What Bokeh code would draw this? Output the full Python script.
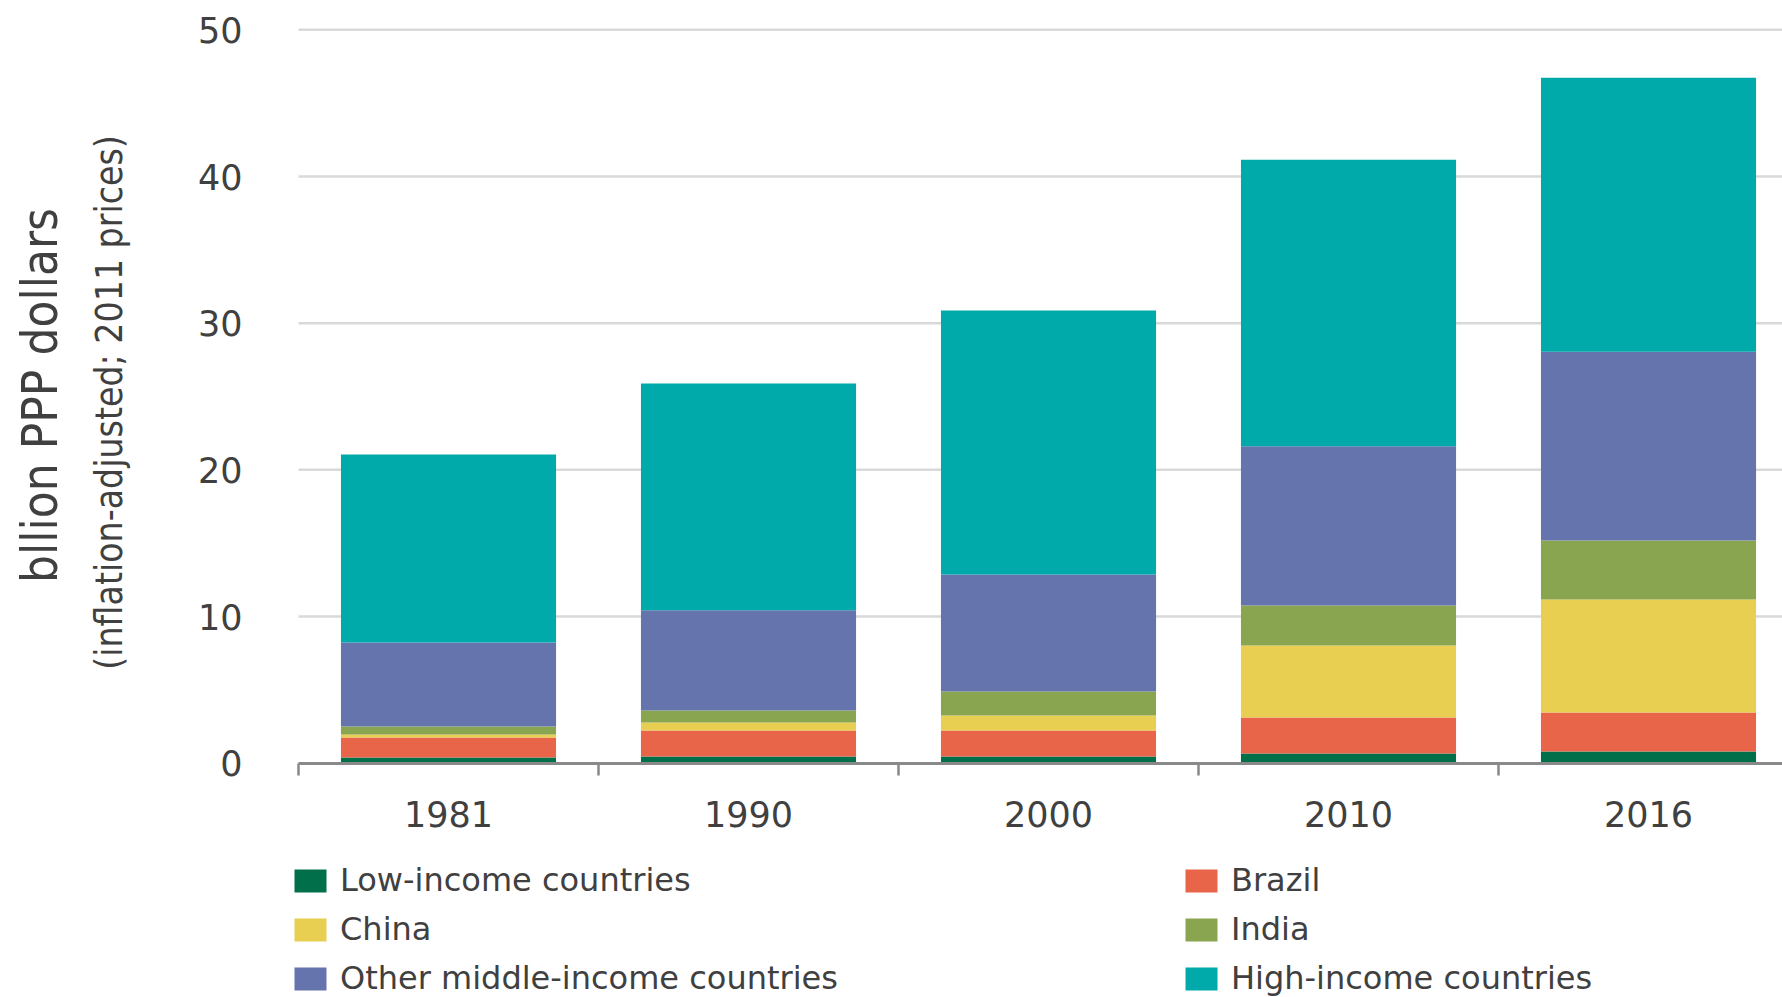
from bokeh.plotting import figure
from bokeh.models import (ColumnDataSource, Range1d, FixedTicker, Legend, LegendItem,
                          Label, LinearAxis)
from bokeh.embed import file_html
from bokeh.resources import INLINE
import math

# ---- data (billion PPP dollars, 2011 prices) ----
years = ["1981", "1990", "2000", "2010", "2016"]
low_income = [0.39, 0.46, 0.46, 0.66, 0.80]
brazil = [1.36, 1.77, 1.77, 2.45, 2.66]
china = [0.21, 0.54, 1.02, 4.91, 7.70]
india = [0.54, 0.82, 1.64, 2.73, 4.03]
other_middle = [5.73, 6.84, 7.97, 10.86, 12.86]
high_income = [12.81, 15.46, 18.00, 19.54, 18.69]
y_ticks = [0, 10, 20, 30, 40, 50]

series = ["low", "brazil", "china", "india", "other", "high"]
names = ["Low-income countries", "Brazil", "China", "India",
         "Other middle-income countries", "High-income countries"]
colors = ["#006F4A", "#E8654A", "#E8CF52", "#8AA54F", "#6574AD", "#00AAAA"]

source = ColumnDataSource(dict(
    x=list(range(len(years))),
    low=low_income, brazil=brazil, china=china, india=india,
    other=other_middle, high=high_income,
))

TEXT = "#404040"
AXIS = "#898989"
FONT = "DejaVu Sans"
NARROW = "'Liberation Sans Narrow', 'DejaVu Sans Condensed', 'Roboto Condensed', sans-serif"

W, H = 1782, 997
PX_X = 300.0           # pixels per category
PX_Y = 14.667          # pixels per unit
LEFT = 298             # left edge of the bar area
ZERO = 762.7           # canvas y of value 0
x0 = -0.5 - LEFT / PX_X
x1 = x0 + W / PX_X
y1 = ZERO / PX_Y
y0 = -(H - ZERO) / PX_Y

p = figure(width=W, height=H, output_backend="svg", toolbar_location=None,
           x_range=Range1d(x0, x1), y_range=Range1d(y0, y1),
           x_axis_location=None, y_axis_location=None,
           min_border=0)
p.outline_line_color = None
p.background_fill_color = "white"
p.border_fill_color = "white"
p.xgrid.visible = False
p.ygrid.visible = False

# horizontal gridlines across the bar area
grid_src = ColumnDataSource(dict(y=y_ticks[1:]))
p.segment(x0=-0.5, x1=x1, y0="y", y1="y", source=grid_src,
          line_color="#D9D9D9", line_width=2.5)

renderers = p.vbar_stack(series, x="x", width=0.717, color=colors,
                         line_color=None, source=source)

# y axis (fixed at the left edge of the bar area)
yaxis = LinearAxis(fixed_location=-0.5, ticker=FixedTicker(ticks=y_ticks))
yaxis.axis_line_color = None
yaxis.major_tick_line_color = None
yaxis.minor_tick_line_color = None
yaxis.major_tick_out = 0
yaxis.major_tick_in = 0
yaxis.major_label_standoff = 56
yaxis.major_label_text_font = FONT
yaxis.major_label_text_font_size = "35px"
yaxis.major_label_text_color = TEXT
p.add_layout(yaxis, "left")

# x axis (fixed at zero)
xaxis = LinearAxis(fixed_location=0, bounds=(-0.5, x1),
                   ticker=FixedTicker(ticks=[0, 1, 2, 3, 4],
                                      minor_ticks=[-0.5, 0.5, 1.5, 2.5, 3.5, 4.5]))
xaxis.major_label_overrides = {i: y for i, y in enumerate(years)}
xaxis.axis_line_color = AXIS
xaxis.axis_line_width = 3
xaxis.major_tick_line_color = None
xaxis.major_tick_out = 0
xaxis.major_tick_in = 0
xaxis.minor_tick_line_color = AXIS
xaxis.minor_tick_line_width = 2.5
xaxis.minor_tick_out = 12
xaxis.minor_tick_in = 0
xaxis.major_label_standoff = 26
xaxis.major_label_text_font = FONT
xaxis.major_label_text_font_size = "35px"
xaxis.major_label_text_color = TEXT
p.add_layout(xaxis, "below")

# axis titles
p.add_layout(Label(x=40, y=602, x_units="screen", y_units="screen",
                   text="bllion PPP dollars", angle=math.pi / 2,
                   text_align="center", text_baseline="middle",
                   text_font=NARROW, text_font_size="49px", text_color=TEXT))
p.add_layout(Label(x=109, y=595, x_units="screen", y_units="screen",
                   text="(inflation-adjusted; 2011 prices)", angle=math.pi / 2,
                   text_align="center", text_baseline="middle",
                   text_font=NARROW, text_font_size="37px", text_color=TEXT))

# legends (two columns)
def make_legend(idx, x):
    leg = Legend(items=[LegendItem(label=names[i], renderers=[renderers[i]]) for i in idx],
                 location=(x, 0), orientation="vertical",
                 glyph_width=40, glyph_height=29, label_standoff=10,
                 spacing=11, padding=0, margin=0,
                 border_line_color=None, background_fill_alpha=0,
                 label_text_font=FONT, label_text_font_size="32px",
                 label_text_color=TEXT)
    p.add_layout(leg, "center")

make_legend([0, 2, 4], 290)
make_legend([1, 3, 5], 1181)

open("out.html", "w").write(file_html(p, INLINE))
